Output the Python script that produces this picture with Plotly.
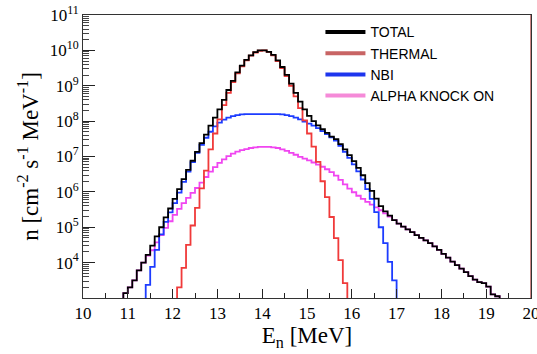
import numpy as np
import plotly.graph_objects as go

BIN = 0.1
FLOOR = 1e3

# log10 of bin contents (n per bin)
total_start = 10.9
total_log = [3.14, 3.30, 3.50, 3.78, 4.00, 4.22, 4.48, 4.74, 5.00, 5.28,
             5.53, 5.80, 6.08, 6.36, 6.62, 6.88, 7.13, 7.38, 7.62, 7.87,
             8.10, 8.33, 8.60, 8.88, 9.14, 9.38, 9.57, 9.73, 9.86, 9.95,
             10.00, 10.00, 9.96, 9.87, 9.72, 9.53, 9.31, 9.06, 8.80, 8.55,
             8.33, 8.15, 8.00, 7.88, 7.77, 7.67, 7.56, 7.49, 7.35, 7.20,
             7.04, 6.87, 6.68, 6.47, 6.25, 6.03, 5.81, 5.60, 5.45, 5.33,
             5.20, 5.10, 5.02, 4.94, 4.86, 4.78, 4.70, 4.63, 4.55, 4.46,
             4.36, 4.25, 4.14, 4.03, 3.93, 3.83, 3.73, 3.62, 3.52, 3.45,
             3.42, 3.32, 3.10, 3.05]

thermal_start = 12.1
thermal_log = [3.30, 3.85, 4.50, 5.05, 5.55, 6.10, 6.60, 7.20, 7.65, 8.05,
               8.45, 8.80, 9.10, 9.35, 9.55, 9.72, 9.85, 9.94, 9.99, 10.00,
               9.96, 9.86, 9.70, 9.50, 9.27, 9.00, 8.70, 8.37, 8.02, 7.65,
               7.28, 6.85, 6.30, 5.85, 5.29, 4.69, 4.07, 3.42]

nbi_start = 11.4
nbi_log = [3.37, 3.88, 4.36, 4.80, 5.15, 5.42, 5.68, 5.98, 6.28, 6.57,
           6.84, 7.10, 7.33, 7.53, 7.70, 7.85, 7.96, 8.04, 8.10, 8.14,
           8.17, 8.19, 8.20, 8.20, 8.20, 8.20, 8.20, 8.20, 8.20, 8.20,
           8.19, 8.17, 8.14, 8.10, 8.05, 7.99, 7.93, 7.87, 7.80, 7.72,
           7.63, 7.54, 7.45, 7.30, 7.13, 6.96, 6.78, 6.58, 6.35, 6.08,
           5.80, 5.43, 5.00, 4.55, 4.02, 3.50]

alpha_start = 10.9
alpha_log = [3.14, 3.30, 3.50, 3.78, 4.00, 4.20, 4.35, 4.57, 4.78, 4.98,
             5.17, 5.35, 5.52, 5.68, 5.83, 5.97, 6.11, 6.26, 6.42, 6.57,
             6.70, 6.82, 6.92, 7.01, 7.08, 7.14, 7.18, 7.21, 7.24, 7.26,
             7.27, 7.27, 7.27, 7.26, 7.24, 7.20, 7.16, 7.10, 7.05, 6.99,
             6.94, 6.89, 6.83, 6.77, 6.71, 6.64, 6.56, 6.46, 6.34, 6.21,
             6.09, 5.99, 5.89, 5.80, 5.72, 5.64, 5.56, 5.48, 5.39, 5.30,
             5.20, 5.10, 5.02, 4.94, 4.86, 4.78, 4.70, 4.63, 4.55, 4.46,
             4.36, 4.25, 4.14, 4.03, 3.93, 3.83, 3.73, 3.62, 3.52, 3.45,
             3.42, 3.32, 3.10, 3.05]

names = ["TOTAL", "THERMAL", "NBI", "ALPHA KNOCK ON"]
plot_colors = {"TOTAL": "#000000", "THERMAL": "#f03a3a", "NBI": "#1d3cff", "ALPHA KNOCK ON": "#f046f0"}
legend_colors = {"TOTAL": "#000000", "THERMAL": "#c86464", "NBI": "#1d35ee", "ALPHA KNOCK ON": "#f58ad8"}

x_ticks = list(range(10, 21))
y_tick_exp = list(range(4, 12))

SERIF = "Liberation Serif"
SANS = "Liberation Sans"


def step_xy(start, logs):
    n = len(logs)
    edges = np.round(start + BIN * np.arange(n + 1), 4)
    x = [edges[0]] + list(edges[:-1]) + [edges[-1]]
    y = [FLOOR] + [10.0 ** v for v in logs] + [FLOOR]
    return x, y


series = {
    "ALPHA KNOCK ON": (alpha_start, alpha_log),
    "NBI": (nbi_start, nbi_log),
    "THERMAL": (thermal_start, thermal_log),
    "TOTAL": (total_start, total_log),
}

fig = go.Figure()
for name in ["ALPHA KNOCK ON", "NBI", "THERMAL", "TOTAL"]:
    s, lg = series[name]
    x, y = step_xy(s, lg)
    fig.add_trace(go.Scatter(x=x, y=y, mode="lines", line_shape="hv",
                             line=dict(color=plot_colors[name], width=1.8),
                             showlegend=False, hoverinfo="skip"))

for name in names:
    fig.add_trace(go.Scatter(x=[None], y=[None], mode="lines", name=name,
                             line=dict(color=legend_colors[name], width=4)))

minor_vals = [k * 10.0 ** e for e in range(3, 11) for k in range(2, 10)]

fig.update_layout(
    width=537, height=354,
    margin=dict(l=83, r=6, t=15, b=56, autoexpand=False),
    paper_bgcolor="white", plot_bgcolor="white",
    font=dict(family=SERIF, color="black"),
    legend=dict(x=0.53, y=0.995, xanchor="left", yanchor="top",
                bgcolor="rgba(0,0,0,0)", font=dict(family=SANS, size=14),
                tracegroupgap=0, itemwidth=40),
    xaxis=dict(range=[10, 20], tickvals=x_ticks, ticktext=[str(v) for v in x_ticks],
               ticks="inside", ticklen=9, tickcolor="#222", showgrid=False, zeroline=False,
               showline=True, linecolor="#333", linewidth=1, mirror=True,
               ticklabeloverflow="allow", automargin=False,
               minor=dict(dtick=0.5, ticks="inside", ticklen=5, tickcolor="#222"),
               tickfont=dict(family=SERIF, size=17),
               title=dict(text="E<sub>n</sub> [MeV]", font=dict(family=SERIF, size=23), standoff=4)),
    yaxis=dict(type="log", range=[3, 11], automargin=False,
               tickvals=[10.0 ** e for e in y_tick_exp],
               ticktext=["10<sup>%d</sup>" % e for e in y_tick_exp],
               ticks="inside", ticklen=12, tickcolor="#222", showgrid=False,
               showline=True, linecolor="#333", linewidth=1, mirror=True,
               minor=dict(tickvals=minor_vals, ticks="inside", ticklen=6, tickcolor="#444"),
               tickfont=dict(family=SERIF, size=17),
               title=dict(text="n [cm<sup>-2</sup> s<sup>-1</sup> MeV<sup>-1</sup>]",
                          font=dict(family=SERIF, size=23), standoff=4)),
    shapes=[dict(type="line", xref="x", yref="paper", x0=20, x1=20, y0=0, y1=1,
                 line=dict(color="#b85a5a", width=1.5))],
)

fig.write_html("out.html")
